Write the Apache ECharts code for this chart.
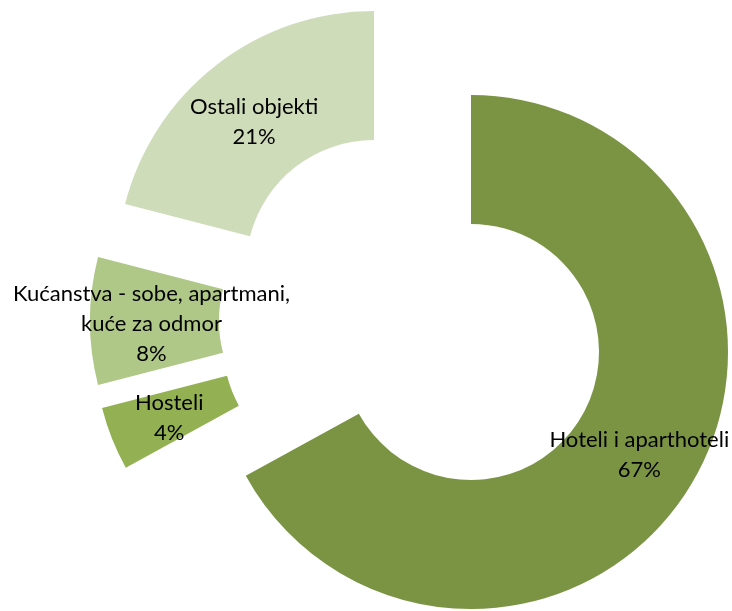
<!DOCTYPE html>
<html>
<head>
<meta charset="utf-8">
<script src="https://cdn.jsdelivr.net/npm/echarts@6/dist/echarts.min.js"></script>
<style>html,body{margin:0;padding:0;background:#fff;}#c{width:732px;height:611px;}</style>
</head>
<body>
<div id="c"></div>
<script>
const categories = ['Hoteli i aparthoteli', 'Hosteli', 'Kućanstva - sobe, apartmani,\nkuće za odmor', 'Ostali objekti'];
const values = [67, 4, 8, 21];
const colors = ['#7b9444', '#93b153', '#afc787', '#cfdcba'];
// exploded slice centres (px) - each slice drawn offset like the original
const centers = [[471, 352], [351, 344], [347, 321], [374, 268]];
const labelShift = [[0, 3], [0, 2], [0, 3], [0, 8]];

const chart = echarts.init(document.getElementById('c'));
const total = values.reduce((a, b) => a + b, 0);
const series = categories.map((name, k) => ({
  type: 'pie',
  silent: true,
  animation: false,
  startAngle: 90,
  clockwise: true,
  center: centers[k],
  radius: [128, 257],
  avoidLabelOverlap: false,
  labelLine: { show: false },
  emphasis: { disabled: true },
  data: categories.map((n, i) => ({
    name: n,
    value: values[i],
    itemStyle: { color: i === k ? colors[i] : 'rgba(0,0,0,0)' },
    label: {
      show: i === k,
      position: 'inside',
      offset: labelShift[i],
      formatter: p => p.name + '\n' + Math.round(p.value / total * 100) + '%',
      color: '#000',
      fontFamily: 'Lato',
      fontSize: 22,
      lineHeight: 30,
      align: 'center'
    }
  }))
}));
chart.setOption({ backgroundColor: '#fff', series });
</script>
</body>
</html>
